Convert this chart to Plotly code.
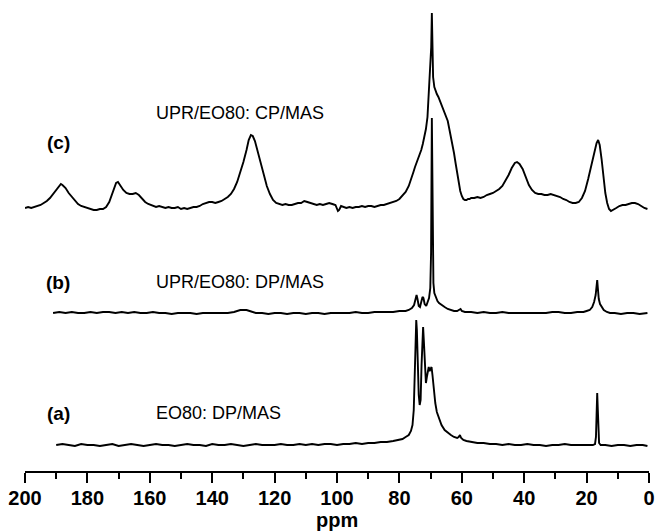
import plotly.graph_objects as go

# ---------------- data ----------------
# Spectrum (c) UPR/EO80: CP/MAS  -- chemical shift (ppm) and intensity (a.u.)
c_ppm = [200, 199, 198, 197, 196, 195, 194, 193, 192, 191, 190, 189, 188.5, 188, 187, 186, 185, 184, 183, 182,
         181, 180, 179, 178, 177, 176, 175, 174, 173, 172, 171.5, 170.8, 170.2, 169.5, 168.5, 167.5, 166.5, 165.5,
         164.5, 163.5, 162.5, 161.5, 160.5, 159, 158, 157, 156, 155, 154, 153, 152, 151, 150, 149, 148, 147, 146,
         145, 144, 143, 142, 141, 140, 139, 138, 137, 136, 135, 134, 133, 132, 131, 130, 129, 128.3, 127.6, 127,
         126.3, 125.5, 124.5, 123.5, 122.5, 121.5, 120.5, 119.5, 118.5, 117.5, 116.5, 115.5, 114.5, 113.5, 112.5,
         111.5, 110.5, 109.5, 108.5, 107.5, 106.5, 105.5, 104.5, 103.5, 102.5, 101.5, 100.5, 99.7, 99.3, 98.7, 98,
         97, 96, 95, 94, 93, 92, 91, 90, 89, 88, 87, 86, 85, 84, 83, 82, 81, 80, 79, 78, 77, 76, 75.5, 75, 74.5, 74,
         73.5, 73, 72.5, 72, 71.5, 71, 70.6, 70.2, 69.8, 69.6, 69.4, 69.2, 68.8, 68.4, 68, 67.5, 67, 66.5, 66, 65.5,
         65, 64.5, 64, 63.5, 63, 62.5, 62, 61.5, 61, 60.5, 60, 59.5, 59, 58.5, 58, 57.5, 57, 56, 55, 54, 53, 52, 51,
         50, 49, 48, 47, 46, 45, 44, 43, 42.3, 41.5, 40.5, 39.5, 38.5, 37.5, 36.5, 35.5, 34.5, 33.5, 32.5, 31.5,
         30.5, 29.5, 28.5, 27.5, 26.5, 25.5, 24.5, 23.5, 22.5, 21.5, 20.5, 19.5, 18.5, 17.5, 16.8, 16.3, 15.8, 15.2,
         14.6, 14, 13.4, 12.8, 12.2, 11.5, 10.5, 9.5, 8.5, 7.5, 6.5, 5.5, 4.5, 3.5, 2.5, 1.5, 0.5]
c_int = [-1, 0, -1, 0, 1, 2, 4, 6, 9, 13, 18, 22, 23, 22, 19, 14, 10, 6, 3, 1,
         0, -1, -2, -3, -3, -2, -2, 0, 5, 13, 19, 24, 25, 22, 17, 14, 13, 13,
         14, 12, 8, 5, 3, 1, 0, 1, 0, -1, 0, -1, -1, 0, -2, -1, -2, -1, 0,
         0, 1, 3, 4, 5, 5, 4, 5, 6, 8, 10, 13, 18, 25, 34, 45, 57, 67, 72, 71,
         66, 56, 43, 31, 21, 13, 7, 4, 3, 2, 3, 2, 2, 3, 4,
         4, 6, 5, 4, 3, 2, 3, 2, 3, 4, 3, 2, -4, -3, 1, 0,
         -1, 0, -1, 0, 0, 1, 0, 1, 1, 0, 1, 2, 2, 3, 4, 5, 6, 8, 11, 15, 21, 29, 35, 40, 44, 48,
         52, 57, 63, 70, 78, 90, 110, 140, 160, 194, 160, 130, 120, 116, 113, 110, 106, 102, 99, 96,
         92, 86, 78, 71, 64, 54, 44, 33, 24, 16, 11, 8, 7, 7, 8, 8, 9, 9, 10, 9, 10, 12, 13,
         14, 16, 18, 21, 26, 32, 39, 44, 45, 43, 38, 30, 22, 17, 14, 13, 13, 12, 12, 13,
         12, 11, 10, 8, 7, 5, 4, 4, 5, 9, 16, 28, 42, 56, 64, 67, 62, 48,
         30, 14, 4, -2, -4, -3, -1, 1, 2, 2, 3, 4, 4, 3, 1, -1, -2]

# Spectrum (b) UPR/EO80: DP/MAS
b_ppm = [191, 189, 187, 185, 183, 181, 179, 177, 175, 173, 171, 169, 167, 165, 163, 161, 159, 157, 155, 153,
         151, 149, 147, 145, 143, 141, 139, 137, 135, 133, 132, 131, 130, 129, 128, 127, 126, 124, 122, 120,
         118, 116, 114, 112, 110, 108, 106, 104, 102, 100, 98, 96, 94, 92, 90, 88, 86, 84, 82, 80, 78, 77, 76,
         75.3, 74.8, 74.5, 74.2, 73.8, 73.4, 73, 72.6, 72.3, 71.9, 71.4, 71, 70.5, 70.1, 69.85, 69.6, 69.35,
         69.1, 68.8, 68.3, 67.8, 67.3, 66.5, 65.5, 64.5, 63.5, 62.5, 61.5, 60.8, 60.4, 60, 59, 57, 55, 53, 51,
         49, 47, 45, 43, 41, 39, 37, 35, 33, 31, 29, 27, 25, 23, 21, 20, 19, 18.2, 17.6, 17.1, 16.8, 16.6,
         16.4, 16.1, 15.7, 15.2, 14.5, 13.5, 12.5, 11, 9, 7, 5, 3, 1.5, 0.5]
b_int = [0, 1, 0, 1, 0, 0, 1, 0, 1, 1, 0, 1, 0, 1, 0, 0, 1, 0, 0, -1,
         0, 0, 0, -1, 0, 0, 0, 0, 0, 1, 2, 3, 3, 3, 2, 1, 0, 0, -1, 0,
         0, -1, 0, 0, -1, 0, 0, -1, 0, 0, 0, 0, 1, 0, 0, 1, 1, 1, 1, 2, 2, 3, 5,
         8, 15, 18, 14, 7, 6, 10, 16, 15, 9, 7, 10, 15, 25, 60, 195, 60,
         30, 20, 15, 12, 10, 8, 6, 4, 3, 2, 2, 3, 4, 2, 1, 1, 0, 1, 0,
         0, 1, 0, 0, 0, 0, 0, 0, 0, 1, 1, 0, 0, 1, 1, 2, 3, 6, 11, 18, 26, 33,
         25, 14, 9, 6, 3, 1, 0, 0, -1, 0, 0, -1, 0, 0]

# Spectrum (a) EO80: DP/MAS
a_ppm = [190, 188, 186, 184, 182, 180, 178, 176, 174, 172, 170, 168, 166, 164, 162, 160, 158, 156, 154, 152,
         150, 148, 146, 144, 142, 140, 138, 136, 134, 132, 130, 128, 126, 124, 122, 120, 118, 116, 114, 112,
         110, 108, 106, 104, 102, 100, 98, 96, 94, 92, 90, 88, 86, 84, 82, 80, 79, 78, 77, 76.3, 75.8, 75.4,
         75.1, 74.8, 74.6, 74.4, 74.1, 73.8, 73.5, 73.2, 72.9, 72.6, 72.4, 72.1, 71.8, 71.5, 71.2, 70.9, 70.6,
         70.3, 70, 69.7, 69.4, 69, 68.5, 68, 67.3, 66.5, 65.5, 64.5, 63.5, 62.5, 61.5, 61, 60.6, 60.2, 59.5,
         58.5, 57, 55, 53, 51, 49, 47, 45, 43, 41, 39, 37, 35, 33, 31, 29, 27, 25, 23, 21, 19, 18, 17.3, 17,
         16.8, 16.6, 16.4, 16.2, 16, 15.5, 14, 12, 10, 8, 6, 4, 2, 0.5]
a_int = [0, 1, 0, -1, 1, 0, 0, -1, 0, 1, -1, 0, 1, 0, -1, 0, 1, 0, 0, -1,
         0, 1, 0, 0, -1, 1, 0, 0, 1, 0, -1, 0, 1, 0, 0, 0, 1, 0, 0, 1,
         0, 1, 0, 1, 1, 0, 1, 1, 2, 1, 2, 2, 3, 3, 4, 5, 6, 8, 10, 14, 20, 35,
         70, 110, 125, 115, 80, 50, 40, 45, 80, 112, 118, 100, 75, 62, 68, 76, 78,
         74, 77, 78, 70, 55, 42, 33, 26, 20, 15, 12, 10, 8, 7, 8, 10, 7, 5,
         4, 3, 2, 2, 1, 1, 0, 1, 0, 0, 1, 0, 0, -1, 0, 0, 1, 0, 0, 0, 0, 0, 1, 8,
         30, 52, 35, 10, 2, 0, 0, -1, 0, 0, -1, 0, 0, -1]

labels = ["(a)", "(b)", "(c)"]
titles = ["EO80: DP/MAS", "UPR/EO80: DP/MAS", "UPR/EO80: CP/MAS"]
tick_vals = [200, 180, 160, 140, 120, 100, 80, 60, 40, 20, 0]

# ---------------- layout constants ----------------
offsets = [26, 158, 264]          # vertical stacking of the spectra
label_x = 189.4                   # ppm position of (a)/(b)/(c)
title_x = 158.8                   # ppm position where the titles start
label_y = [58, 189, 329]
title_y = [58, 189, 358]
FONT = "Liberation Sans, Arial, sans-serif"

fig = go.Figure()
for ppm, inten, off in [(a_ppm, a_int, offsets[0]), (b_ppm, b_int, offsets[1]), (c_ppm, c_int, offsets[2])]:
    fig.add_trace(go.Scatter(x=ppm, y=[v + off for v in inten], mode="lines",
                             line=dict(color="black", width=1.9), showlegend=False,
                             hoverinfo="skip"))

for lab, tit, ly, ty in zip(labels, titles, label_y, title_y):
    fig.add_annotation(x=label_x, y=ly, xref="x", yref="y", text="<b>" + lab + "</b>",
                       showarrow=False, xanchor="center", yanchor="middle",
                       font=dict(family=FONT, size=19, color="black"))
    fig.add_annotation(x=title_x, y=ty, xref="x", yref="y", text=tit,
                       showarrow=False, xanchor="left", yanchor="middle",
                       font=dict(family=FONT, size=18, color="black"))

fig.add_annotation(x=0.5, y=0, xref="paper", yref="paper", text="<b>ppm</b>",
                   showarrow=False, xanchor="center", yanchor="middle", yshift=-49,
                   font=dict(family=FONT, size=20, color="black"))

fig.update_layout(
    width=655, height=532,
    margin=dict(l=25, r=6, t=0, b=61),
    paper_bgcolor="white", plot_bgcolor="white",
    xaxis=dict(range=[200, 0], showgrid=False, zeroline=False,
               showline=True, linecolor="black", linewidth=1.5,
               ticks="outside", ticklen=10, tickwidth=1.5, tickcolor="black",
               tickvals=tick_vals, ticktext=[str(v) for v in tick_vals],
               ticklabelstandoff=-2,
               tickfont=dict(family=FONT, size=20, color="black", weight="bold"),
               minor=dict(dtick=10, ticks="outside", ticklen=6, tickwidth=1.5, tickcolor="black")),
    yaxis=dict(range=[0, 471], visible=False, showgrid=False, zeroline=False),
)

fig.write_html("out.html")
